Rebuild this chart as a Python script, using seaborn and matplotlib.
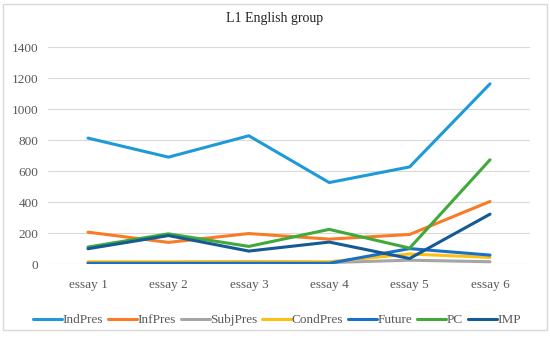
import pandas as pd
import matplotlib.pyplot as plt
import seaborn as sns
from matplotlib.patches import Rectangle

# ---------------------------------------------------------
# DATA
# ---------------------------------------------------------
essays = ["essay 1", "essay 2", "essay 3", "essay 4", "essay 5", "essay 6"]

ind_pres = [813, 690, 828, 526, 627, 1163]
inf_pres = [206, 140, 197, 161, 191, 404]
subj_pres = [10, 10, 15, 10, 25, 15]
cond_pres = [15, 15, 15, 15, 65, 43]
future = [5, 5, 5, 5, 100, 58]
pc = [110, 195, 114, 224, 103, 673]
imp = [99, 184, 84, 142, 36, 322]

series_names = ["IndPres", "InfPres", "SubjPres", "CondPres", "Future", "PC", "IMP"]
series_values = [ind_pres, inf_pres, subj_pres, cond_pres, future, pc, imp]
colors = ["#1f9ad8", "#f97b25", "#a5a5a5", "#fdc010", "#1a6fcb", "#40a93a", "#145a94"]

rows = []
for name, vals in zip(series_names, series_values):
    for essay, v in zip(essays, vals):
        rows.append({"Essay": essay, "Tense": name, "Count": v})
df = pd.DataFrame(rows)

# ---------------------------------------------------------
# PLOT
# ---------------------------------------------------------
sns.set_style("white")
plt.rcParams["font.family"] = ["Liberation Serif", "DejaVu Serif"]

fig = plt.figure(figsize=(5.5, 3.39), dpi=100)
ax = fig.add_axes([0.087, 0.221, 0.877, 0.64])

sns.lineplot(data=df, x="Essay", y="Count", hue="Tense", hue_order=series_names,
             palette=colors, linewidth=2.2, sort=False, ax=ax)

ax.set_xlim(-0.5, 5.5)
ax.set_ylim(0, 1400)
ax.set_yticks(range(0, 1401, 200))
ax.yaxis.grid(True, color="#d9d9d9", linewidth=0.8)
ax.set_axisbelow(True)
for s in ax.spines.values():
    s.set_visible(False)
ax.tick_params(axis="y", length=0, labelsize=9.5, colors="#595959", pad=7)
ax.tick_params(axis="x", length=0, labelsize=9.5, colors="#595959", pad=11)
ax.set_xlabel("")
ax.set_ylabel("")

fig.text(0.5, 0.945, "L1 English group", ha="center", va="center", fontsize=10, color="#222222")

ax.legend(loc="upper center", bbox_to_anchor=(0.475, -0.175), ncol=7, frameon=False,
          fontsize=9.5, handlelength=2.2, handletextpad=0.05, columnspacing=0.35,
          labelcolor="#595959")

# chart border
fig.patches.append(Rectangle((3 / 550, 1 - 330 / 339), 544 / 550, 326 / 339,
                             transform=fig.transFigure, fill=False,
                             edgecolor="#d9d9d9", linewidth=1))

fig.savefig("out.png", dpi=100)
